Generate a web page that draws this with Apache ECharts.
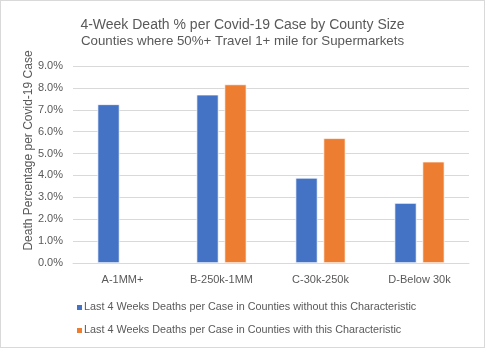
<!DOCTYPE html>
<html><head><meta charset="utf-8">
<script src="https://cdn.jsdelivr.net/npm/echarts@6/dist/echarts.min.js"></script>
<style>html,body{margin:0;padding:0;background:#fff}#c{width:485px;height:348px;box-sizing:border-box;border:1px solid #d9d9d9}</style>
</head><body><div id="c"></div>
<script>
const categories = ['A-1MM+', 'B-250k-1MM', 'C-30k-250k', 'D-Below 30k'];
const withoutChar = [7.25, 7.69, 3.89, 2.74];
const withChar = [null, 8.16, 5.70, 4.63];
const seriesNames = ['Last 4 Weeks Deaths per Case in Counties without this Characteristic', 'Last 4 Weeks Deaths per Case in Counties with this Characteristic'];
const titleText = '4-Week Death % per Covid-19 Case by County Size';
const subtitleText = 'Counties where 50%+ Travel 1+ mile for Supermarkets';
const yAxisName = 'Death Percentage per Covid-19 Case';

const font = 'Liberation Sans';
const txt = '#595959';
const chart = echarts.init(document.getElementById('c'));
chart.setOption({
  animation: false,
  textStyle: {fontFamily: font},
  title: {
    text: titleText, subtext: subtitleText, left: 'center', top: 12, itemGap: 3,
    textStyle: {fontFamily: font, fontSize: 14, fontWeight: 'normal', color: txt},
    subtextStyle: {fontFamily: font, fontSize: 13.3, color: txt}
  },
  grid: {left: 72, right: 15, top: 65, bottom: 84},
  legend: {
    orient: 'vertical', left: 69, top: 296, itemWidth: 7, itemHeight: 7, itemGap: 12,
    icon: 'rect', textStyle: {fontFamily: font, fontSize: 10.8, color: txt, padding: [0,0,0,-4]}
  },
  xAxis: {
    type: 'category', data: categories,
    axisLine: {lineStyle: {color: '#d9d9d9'}}, axisTick: {show: false},
    axisLabel: {color: txt, fontSize: 11, fontFamily: font, margin: 11}
  },
  yAxis: {
    type: 'value', min: 0, max: 9, interval: 1,
    name: yAxisName, nameLocation: 'middle', nameGap: 38, nameMoveOverlap: false,
    nameTextStyle: {color: txt, fontSize: 12, fontFamily: font, padding: [0,0,0,28]},
    axisLabel: {color: txt, fontSize: 11, fontFamily: font, formatter: v => v.toFixed(1) + '%', margin: 10},
    splitLine: {lineStyle: {color: '#d9d9d9'}}, axisLine: {show: false}, axisTick: {show: false}
  },
  series: [
    {name: seriesNames[0], type: 'bar', data: withoutChar, barWidth: 22, barGap: '27%',
     itemStyle: {color: '#4472C4', borderColor: '#fff', borderWidth: 0.7}},
    {name: seriesNames[1], type: 'bar', data: withChar, barWidth: 22,
     itemStyle: {color: '#ED7D31', borderColor: '#fff', borderWidth: 0.7}}
  ]
});
</script></body></html>
